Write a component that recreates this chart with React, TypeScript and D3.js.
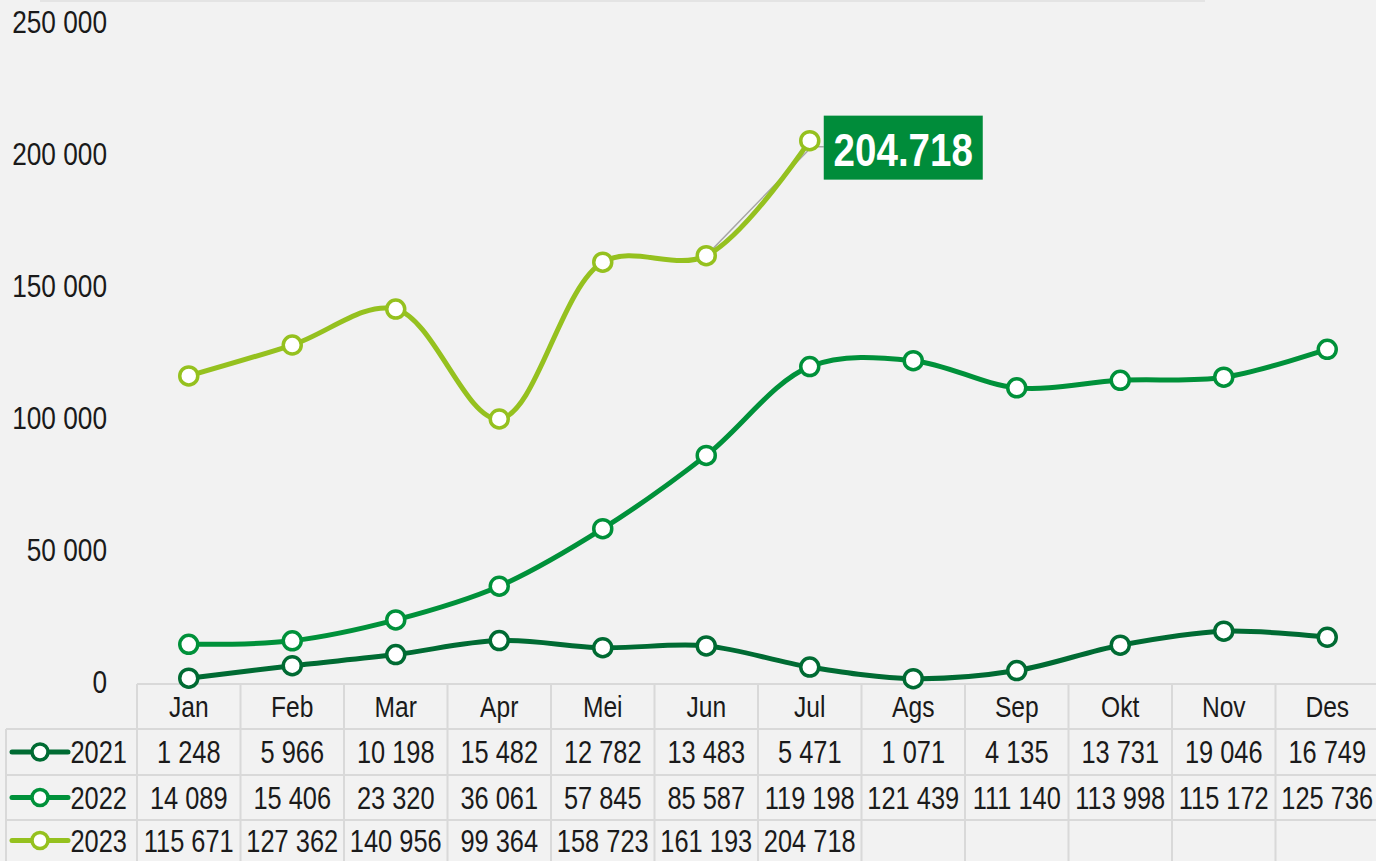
import React, { useEffect, useRef } from 'react';
import * as d3 from 'd3';

const months = ['Jan', 'Feb', 'Mar', 'Apr', 'Mei', 'Jun', 'Jul', 'Ags', 'Sep', 'Okt', 'Nov', 'Des'];
const years = ['2021', '2022', '2023'];
const v2021 = [1248, 5966, 10198, 15482, 12782, 13483, 5471, 1071, 4135, 13731, 19046, 16749];
const v2022 = [14089, 15406, 23320, 36061, 57845, 85587, 119198, 121439, 111140, 113998, 115172, 125736];
const v2023 = [115671, 127362, 140956, 99364, 158723, 161193, 204718];
const yTicks = [0, 50000, 100000, 150000, 200000, 250000];
const colors = ['#006b33', '#00913a', '#95c11f'];

const W = 1376;
const H = 861;
// no narrow font installed, so Liberation Sans gets squeezed to narrow width
const FONT = '"Liberation Sans", Arial, sans-serif';
const NARROW = 0.82;

export default function App() {
  const ref = useRef<SVGSVGElement>(null);

  useEffect(() => {
    const svg = d3.select(ref.current);
    svg.selectAll('*').remove();

    const series = [v2021, v2022, v2023];
    const fmt = d3.formatLocale({ decimal: ',', thousands: ' ', grouping: [3], currency: ['', ''] }).format(',');
    const fmtLabel = d3.formatLocale({ decimal: ',', thousands: '.', grouping: [3], currency: ['', ''] }).format(',');

    const x = d3.scaleBand<string>().domain(months).range([137, 1379]);
    const y = d3.scaleLinear().domain([0, 250000]).range([681.5, 21]);
    const cx = (m: string) => (x(m) as number) + x.bandwidth() / 2;

    const label = (g: any, tx: number, ty: number, txt: string, size: number, anchor: string) =>
      g.append('text')
        .attr('transform', `translate(${tx},${ty}) scale(${NARROW},1)`)
        .attr('dy', '0.36em')
        .attr('text-anchor', anchor)
        .attr('font-size', size)
        .attr('font-family', FONT)
        .attr('fill', '#1a1a1a')
        .text(txt);

    // background
    svg.append('rect').attr('width', W).attr('height', H).attr('fill', '#f2f2f2');
    svg.append('rect').attr('x', 40).attr('y', 0).attr('width', 1165).attr('height', 2).attr('fill', '#e4e4e4');

    // y axis labels
    const ax = svg.append('g');
    yTicks.forEach(t => label(ax, 107, y(t), fmt(t), 32, 'end'));

    // data table grid
    const rowTop = [684, 729, 775, 820, 861];
    const grid = svg.append('g').attr('stroke', '#d9d9d9').attr('stroke-width', 2);
    grid.append('line').attr('x1', 137).attr('x2', W).attr('y1', rowTop[0]).attr('y2', rowTop[0]);
    rowTop.slice(1, 4).forEach(r => {
      grid.append('line').attr('x1', 6).attr('x2', W).attr('y1', r).attr('y2', r);
    });
    grid.append('line').attr('x1', 6).attr('x2', 6).attr('y1', rowTop[1]).attr('y2', H);
    months.forEach(m => {
      const x0 = x(m) as number;
      grid.append('line').attr('x1', x0).attr('x2', x0).attr('y1', rowTop[0]).attr('y2', H);
    });

    // header
    const head = svg.append('g');
    months.forEach(m => label(head, cx(m), (rowTop[0] + rowTop[1]) / 2, m, 30, 'middle'));

    // rows with legend keys
    series.forEach((vals, i) => {
      const yc = (rowTop[i + 1] + rowTop[i + 2]) / 2;
      const g = svg.append('g');
      vals.forEach((v, j) => label(g, cx(months[j]), yc, fmt(v), 31, 'middle'));
      g.append('line').attr('x1', 12).attr('x2', 68).attr('y1', yc).attr('y2', yc)
        .attr('stroke', colors[i]).attr('stroke-width', 5).attr('stroke-linecap', 'round');
      g.append('circle').attr('cx', 40).attr('cy', yc).attr('r', 8)
        .attr('fill', '#fff').attr('stroke', colors[i]).attr('stroke-width', 3.5);
      label(g, 127, yc, years[i], 31, 'end');
    });

    // leader line for label
    const jun = [cx(months[5]), y(v2023[5])];
    const jul = [cx(months[6]), y(v2023[6])];
    const boxX = jul[0] + 14;
    const boxY = jul[1] - 25;
    svg.append('polyline')
      .attr('points', [jun, [jul[0] + 2, jul[1] + 6], [boxX, jul[1] + 6]].map(p => p.join(',')).join(' '))
      .attr('fill', 'none')
      .attr('stroke', '#a6a6a6')
      .attr('stroke-width', 1.5);

    // lines
    const line = d3.line<number>()
      .x((d, j) => cx(months[j]))
      .y(d => y(d))
      .curve(d3.curveCatmullRom.alpha(0.5));

    series.forEach((vals, i) => {
      svg.append('path')
        .attr('d', line(vals))
        .attr('fill', 'none')
        .attr('stroke', colors[i])
        .attr('stroke-width', 5)
        .attr('stroke-linecap', 'round');
    });
    series.forEach((vals, i) => {
      svg.append('g')
        .selectAll('circle')
        .data(vals)
        .enter()
        .append('circle')
        .attr('cx', (d, j) => cx(months[j]))
        .attr('cy', d => y(d))
        .attr('r', 9)
        .attr('fill', '#fff')
        .attr('stroke', colors[i])
        .attr('stroke-width', 3.5);
    });

    // data label
    svg.append('rect')
      .attr('x', boxX).attr('y', boxY).attr('width', 159).attr('height', 64)
      .attr('fill', '#008c3a');
    svg.append('text')
      .attr('transform', `translate(${boxX + 79.5},${boxY + 50}) scale(${NARROW},1)`)
      .attr('text-anchor', 'middle')
      .attr('font-size', 47)
      .attr('font-weight', 'bold')
      .attr('font-family', FONT)
      .attr('fill', '#fff')
      .text(fmtLabel(v2023[6]));
  }, []);

  return (
    <svg
      ref={ref}
      width={W}
      height={H}
      style={{ position: 'absolute', left: 0, top: 0, display: 'block' }}
    />
  );
}
